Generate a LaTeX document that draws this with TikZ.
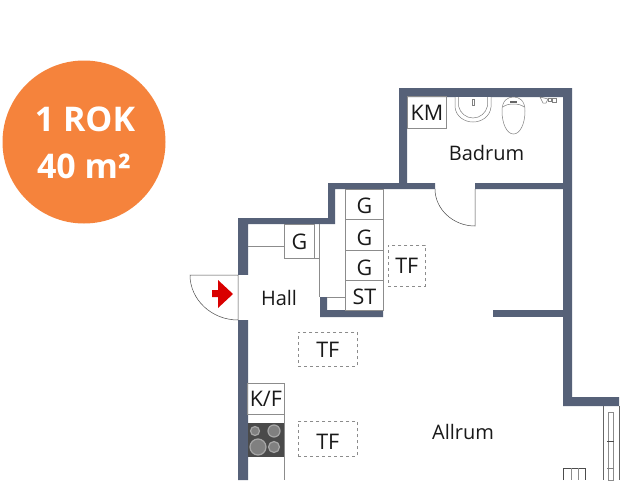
\documentclass[tikz,border=0pt]{standalone}
\usepackage{fontspec}
\setmainfont{Open Sans}
\usetikzlibrary{positioning}
\usetikzlibrary{arrows.meta}
\usetikzlibrary{calc}
\definecolor{wallblue}{HTML}{566178}
\definecolor{badge}{HTML}{F5833C}
\definecolor{thinline}{HTML}{8C8C8C}
\definecolor{stovegray}{HTML}{4A4A4A}

\begin{document}
\begin{tikzpicture}[
    x=1pt,y=-1pt,
% Wall and fixture style
    wall/.style={fill=wallblue,draw=none},
    thin line/.style={draw=thinline,line width=0.7pt},
    door/.style={draw=black!70,line width=0.5pt},
    sanitary/.style={draw=black!50,line width=0.5pt,fill=white},
    burner/.style={draw=black!35,fill=black!50,line width=1.2pt},
% Label style
    room/.style={font={\fontsize{20pt}{24}\selectfont},text=black!90,inner sep=0pt},
    fixture/.style={draw=thinline,line width=0.7pt,anchor=north west,inner sep=0pt,
		font={\fontsize{21.5pt}{24}\selectfont},text=black!90},
    tfbox/.style={draw=black!45,dashed,line width=0.7pt,anchor=north west,inner sep=0pt,
		font={\fontsize{21.5pt}{24}\selectfont},text=black!90},
    badgetext/.style={text=white,inner sep=0pt,font={\bfseries\fontsize{34pt}{40}\selectfont}}
    ]
  \useasboundingbox (0,0) rectangle (640,480);
  \fill[white] (0,0) rectangle (640,480);

  % badge
  \node (badge) [circle,fill=badge,minimum size=163pt,inner sep=0pt] at (84,142) {};
  \node (rok) [badgetext] at (85,119) {1 ROK};
  \node (area) [badgetext] at (84,166) {40 m²};

  % outer walls
  \fill[wall] (238,480) -- (238,218) -- (328,218) -- (328,183) -- (399,183) -- (399,88)
    -- (572,88) -- (572,397) -- (619,397) -- (619,406) -- (563,406) -- (563,189)
    -- (475,189) -- (475,183) -- (563,183) -- (563,97) -- (407,97) -- (407,183)
    -- (435,183) -- (435,189) -- (335,189) -- (335,224) -- (248,224) -- (248,480) -- cycle;
  % door gap in the hall
  \fill[white] (237,275) rectangle (249,320);

  % inner walls
  \fill[wall] (320,297) -- (327,297) -- (327,310) -- (383,310) -- (383,317) -- (320,317) -- cycle;
  \fill[wall] (493,310) rectangle (563,317);

  % wardrobes
  \node (g1) [fixture,minimum width=38pt,minimum height=30pt,text height=17.5pt] at (345,189) {G};
  \node (g2) [fixture,minimum width=38pt,minimum height=31pt,text height=21pt] at (345,219) {G};
  \node (g3) [fixture,minimum width=38pt,minimum height=30pt,text height=19.5pt] at (345,250) {G};
  \node (st) [fixture,minimum width=38pt,minimum height=30pt,text height=17.5pt] at (345,280) {ST};
  \node (g4) [fixture,minimum width=30pt,minimum height=34pt] at (284,224) {G};
  \draw[thin line] (248,246) -- (284,246);
  \draw[thin line] (319.5,224) -- (319.5,297);
  \draw[thin line] (314,258) -- (319.5,258);
  \draw[thin line] (327,297.5) -- (345,297.5);

  % bathroom
  \node (km) [fixture,minimum width=39pt,minimum height=32pt] at (407,96) {KM};
  \node (badrum) [room] at (486.5,153) {Badrum};
  % washbasin
  \draw[sanitary] (455,97) -- (455,107) .. controls (456,117) and (465,122) .. (473,122)
    .. controls (481,122) and (490,117) .. (491,107) -- (491,97);
  \draw[sanitary] (458.5,97) -- (458.5,106) .. controls (460,113) and (466,118) .. (473,118)
    .. controls (480,118) and (486,113) .. (487.5,106) -- (487.5,97);
  \draw[sanitary] (472,99) rectangle (474,105);
  % toilet
  \draw[sanitary] (502,111) .. controls (502,100) and (508,97) .. (513.5,97)
    .. controls (519,97) and (525,100) .. (525,111) .. controls (525,124) and (520,134) .. (513.5,134)
    .. controls (507,134) and (502,124) .. (502,111) -- cycle;
  \draw[sanitary] (503,107) .. controls (507,103) and (520,103) .. (524,107);
  \fill[black!60] (510,101) rectangle (517,102.5);
  % shower
  \draw[sanitary] (540,97) -- (543,103) -- (546,103) -- (548,99) -- cycle;
  \draw[sanitary] (548,98.5) rectangle (551,101.5);
  \draw[sanitary] (552,98) rectangle (556,102);

  % doors
  \draw[door] (475,189) -- (475,226) .. controls (453,226) and (435,209) .. (435,189);
  \draw[door] (238,320) -- (238,275) -- (190,275) .. controls (190,300) and (212,320) .. (238,320);

  % entrance arrow
  \fill[red!85!black] (212,290) -- (218,290) -- (218,280) -- (233,294) -- (218,308)
    -- (218,297) -- (212,297) -- cycle;
  \node (hall) [room] at (279,298) {Hall};

  % kitchen
  \node (kf) [fixture,minimum width=37pt,minimum height=31pt] at (247,383) {K/F};
  \draw[thin line] (284,414) -- (284,480);
  \fill[stovegray] (248,423) rectangle (284,457);
  \draw[burner] (255,431) circle (4.5);
  \draw[burner] (274,431) circle (6);
  \draw[burner] (258,447) circle (8);
  \draw[burner] (274,447) circle (5.5);

  % marked boxes
  \node (tf1) [tfbox,minimum width=37pt,minimum height=41pt] at (388,245) {TF};
  \node (tf2) [tfbox,minimum width=59pt,minimum height=34pt] at (298,332) {TF};
  \node (tf3) [tfbox,minimum width=59pt,minimum height=35pt,text height=21pt] at (298,421) {TF};
  \node (allrum) [room] at (463,432) {Allrum};

  % window
  \draw[thin line,draw=black!60] (603,406) -- (603,480);
  \draw[thin line,draw=black!60] (619,406) -- (619,480);
  \draw[thin line] (608,412) rectangle (613,480);
  \draw[black!70,line width=0.8pt] (607,441) -- (614,441);
  \draw[black!50,line width=0.7pt] (607,468) -- (614,468);

  % bottom right box
  \draw[thin line,draw=black!70] (563,480) -- (563,468) -- (585,468) -- (585,480);
  \draw[thin line] (571,468) -- (571,480);
  \draw[thin line] (578,468) -- (578,480);
\end{tikzpicture}
\end{document}
